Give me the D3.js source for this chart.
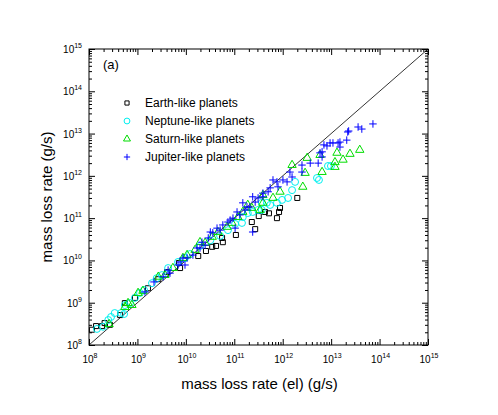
<!DOCTYPE html>
<html>
<head>
<meta charset="utf-8">
<script src="https://cdn.jsdelivr.net/npm/d3@7"></script>
<style>
  body { margin: 0; background: #fff; }
  text { font-family: "Liberation Sans", Arial, sans-serif; fill: #000; }
</style>
</head>
<body>
<div id="the_chart"></div>
<script>
// values, [el rate, rate] in g/s
var earthPoints = [
  [1.15e8, 2.3e8], [1.4e8, 2.8e8], [1.85e8, 2.8e8], [2.1e8, 3.3e8], [2.7e8, 3.0e8],
  [4.4e8, 5.1e8], [5.5e8, 9.8e8], [8.9e8, 1.3e9], [1.65e9, 2.2e9], [2.7e9, 3.6e9],
  [4.1e9, 5.3e9], [7.2e9, 8.7e9], [7.6e9, 6.6e9], [1.8e10, 1.27e10], [2.6e10, 1.67e10],
  [3.5e10, 2.1e10], [4.2e10, 2.2e10], [5.6e10, 3.4e10], [5.8e10, 2.7e10], [1.08e11, 4.0e10],
  [2.7e11, 5.5e10], [2.3e11, 8.1e10], [3.2e11, 1.12e11], [4.3e11, 1.4e11], [5.2e11, 1.3e11],
  [7.6e11, 1.0e11], [8.4e11, 1.4e11], [8.8e11, 1.74e11], [2.0e12, 3.0e11]
];
var neptunePoints = [
  [1.46e8, 2.4e8], [1.95e8, 2.7e8], [2.5e8, 3.9e8], [2.85e8, 4.6e8], [3.4e8, 5.7e8],
  [4.6e8, 5.7e8], [5.3e8, 5.4e8], [5.5e8, 8.8e8], [7.0e8, 9.8e8], [8.9e8, 1.3e9],
  [1.13e9, 1.7e9], [1.37e9, 2.0e9], [2.0e9, 2.9e9], [2.5e9, 3.8e9], [3.2e9, 4.5e9],
  [4.3e9, 6.6e9], [6.9e9, 9.2e9], [9.6e9, 1.14e10], [1.22e10, 1.42e10], [1.96e10, 2.2e10],
  [3.2e10, 3.0e10], [5.1e10, 3.8e10], [7.4e10, 5.2e10], [1.04e11, 7.3e10], [1.44e11, 7.7e10],
  [1.5e11, 1.06e11], [1.9e11, 1.32e11], [2.4e11, 1.4e11], [3.1e11, 1.56e11], [3.7e11, 1.56e11],
  [3.7e11, 2.3e11], [4.7e11, 2.3e11], [5.5e11, 2.05e11], [7.6e11, 2.3e11], [9.7e11, 2.7e11],
  [1.29e12, 3.0e11], [1.56e12, 4.6e11], [1.8e12, 7.2e11], [5.1e12, 8.9e11], [5.6e12, 8.0e11],
  [8.6e12, 1.71e12], [9.9e12, 1.71e12]
];
var saturnPoints = [
  [2.6e8, 3.1e8], [5.5e8, 7.9e8], [6.4e8, 9.8e8], [7.7e8, 8.8e8], [1.03e9, 1.7e9],
  [1.3e9, 1.9e9], [2.7e9, 4.1e9], [3.7e9, 4.5e9], [5.4e9, 6.6e9], [8.7e9, 1.14e10],
  [1.06e10, 1.34e10], [1.55e10, 1.77e10], [1.96e10, 2.7e10], [2.5e10, 2.6e10], [3.5e10, 3.6e10],
  [4.6e10, 4.7e10], [7.1e10, 6.2e10], [9.0e10, 7.7e10], [1.19e11, 1.06e11], [1.5e11, 1.4e11],
  [1.9e11, 2.05e11], [2.3e11, 1.74e11], [3.4e11, 1.56e11], [3.9e11, 3.5e11], [3.9e11, 2.3e11],
  [6.3e11, 3.0e11], [8.8e11, 4.2e11], [1.56e12, 1.8e12], [2.6e12, 5.5e11], [2.9e12, 1.17e12],
  [3.2e12, 2.65e12], [5.9e12, 3.1e12], [6.5e12, 1.23e12], [1.2e13, 2.1e12], [1.2e13, 1.62e12],
  [1.32e13, 3.5e12], [1.76e13, 2.4e12], [2.45e13, 3.3e12], [3.9e13, 4.1e12]
];
var jupiterPoints = [
  [1.43e9, 1.8e9], [2.2e9, 3.1e9], [3.4e9, 4.1e9], [4.3e9, 5.9e9], [4.7e9, 5.0e9],
  [6.9e9, 7.8e9], [7.6e9, 9.2e9], [8.7e9, 1.14e10], [9.6e9, 7.8e9], [1.06e10, 1.14e10],
  [1.4e10, 1.34e10], [1.7e10, 1.97e10], [1.96e10, 1.97e10], [2.15e10, 2.7e10], [2.5e10, 2.3e10],
  [2.9e10, 3.4e10], [3.2e10, 4.7e10], [3.6e10, 4.5e10], [4.4e10, 5.8e10], [5.1e10, 5.2e10],
  [5.8e10, 6.9e10], [7.4e10, 8.1e10], [8.2e10, 9.0e10], [9.4e10, 1.0e11], [1.14e11, 1.4e11],
  [1.31e11, 1.19e11], [1.5e11, 2.3e11], [1.66e11, 1.56e11], [1.83e11, 1.84e11], [2.1e11, 1.84e11],
  [2.4e11, 3.2e11], [2.7e11, 2.4e11], [3.1e11, 3.0e11], [3.9e11, 3.9e11], [3.9e11, 3.2e11],
  [5.0e11, 4.2e11], [5.5e11, 5.2e11], [6.3e11, 8.0e11], [7.6e11, 7.2e11], [8.0e11, 5.5e11],
  [1.01e12, 8.0e11], [1.23e12, 7.2e11], [1.41e12, 1.23e12], [1.56e12, 9.4e11], [2.5e12, 1.8e12],
  [2.5e12, 1.23e12], [3.7e12, 2.0e12], [5.4e12, 2.0e12], [5.9e12, 3.5e12], [6.5e12, 3.7e12],
  [6.5e12, 2.8e12], [7.1e12, 5.4e12], [8.2e12, 5.1e12], [9.5e12, 6.0e12], [1.09e13, 6.0e12],
  [1.39e13, 6.0e12], [1.52e13, 6.3e12], [1.52e13, 4.8e12], [2.1e13, 7.0e12], [2.2e13, 1.09e13],
  [2.3e13, 1.15e13], [3.6e13, 1.43e13], [4.3e13, 1.28e13], [7.3e13, 1.69e13],
  [1.04e11, 5.8e10], [2.4e11, 4.7e10]
];
var seriesNames = ["Earth-like planets", "Neptune-like planets", "Saturn-like planets", "Jupiter-like planets"];
var tickExponents = [8, 9, 10, 11, 12, 13, 14, 15];
var axisDomain = [1e8, 1e15];

var w = 498;
var h = 415;
var plotL = 89, plotR = 428, plotT = 49, plotB = 345;

var svg = d3.select("#the_chart")
  .append("svg")
  .attr("width", w)
  .attr("height", h);

var xscale = d3.scaleLog().domain(axisDomain).range([plotL, plotR]);
var yscale = d3.scaleLog().domain(axisDomain).range([plotB, plotT]);

var majors = tickExponents.map(function (e) { return Math.pow(10, e); });
var minors = [];
tickExponents.slice(0, -1).forEach(function (e) {
  for (var k = 2; k <= 9; k++) minors.push(k * Math.pow(10, e));
});

// ticks point inward on all four sides
function addTicks(axisFn, scale, transform) {
  [[minors, -3], [majors, -6]].forEach(function (t) {
    svg.append("g")
      .attr("transform", transform)
      .call(axisFn(scale).tickValues(t[0]).tickSize(t[1]).tickFormat("").tickSizeOuter(0))
      .call(function (g) { g.select(".domain").remove(); });
  });
}

addTicks(d3.axisBottom, xscale, "translate(0," + plotB + ")");
addTicks(d3.axisTop, xscale, "translate(0," + plotT + ")");
addTicks(d3.axisLeft, yscale, "translate(" + plotL + ",0)");
addTicks(d3.axisRight, yscale, "translate(" + plotR + ",0)");

svg.append("rect")
  .attr("x", plotL).attr("y", plotT)
  .attr("width", plotR - plotL).attr("height", plotB - plotT)
  .attr("fill", "none").attr("stroke", "#000").attr("stroke-width", 1);

// tick labels 10^n
var xl = svg.selectAll(".xlab")
  .data(tickExponents)
  .enter().append("text")
  .attr("class", "xlab")
  .attr("x", function (d) { return xscale(Math.pow(10, d)) + 1; })
  .attr("y", plotB + 18)
  .attr("text-anchor", "middle")
  .style("font-size", "10px");
xl.append("tspan").text("10");
xl.append("tspan").attr("dy", -5).style("font-size", "7px").text(function (d) { return d; });

var yl = svg.selectAll(".ylab")
  .data(tickExponents)
  .enter().append("text")
  .attr("class", "ylab")
  .attr("x", plotL - 7)
  .attr("y", function (d) { return yscale(Math.pow(10, d)) + 4; })
  .attr("text-anchor", "end")
  .style("font-size", "10px");
yl.append("tspan").text("10");
yl.append("tspan").attr("dy", -5).style("font-size", "7px").text(function (d) { return d; });

svg.append("text")
  .attr("x", (plotL + plotR) / 2 + 1)
  .attr("y", 389)
  .attr("text-anchor", "middle")
  .style("font-size", "15px")
  .text("mass loss rate (el) (g/s)");

svg.append("text")
  .attr("transform", "translate(52," + ((plotT + plotB) / 2) + ") rotate(-90)")
  .attr("text-anchor", "middle")
  .style("font-size", "15px")
  .text("mass loss rate (g/s)");

svg.append("text")
  .attr("x", 103).attr("y", 69)
  .style("font-size", "13px")
  .text("(a)");

// y = x reference line
svg.append("line")
  .attr("x1", xscale(axisDomain[0])).attr("y1", yscale(axisDomain[0]))
  .attr("x2", xscale(axisDomain[1])).attr("y2", yscale(axisDomain[1]))
  .attr("stroke", "#000").attr("stroke-width", 0.8);

var plusSymbol = {
  draw: function (context, size) {
    var r = Math.sqrt(size) / 2;
    context.moveTo(-r, 0); context.lineTo(r, 0);
    context.moveTo(0, -r); context.lineTo(0, r);
  }
};

var styles = [
  { data: earthPoints, type: d3.symbolSquare, size: 25, color: "#000000" },
  { data: neptunePoints, type: d3.symbolCircle, size: 38, color: "#00f0f0" },
  { data: saturnPoints, type: d3.symbolTriangle, size: 30, color: "#00dd00" },
  { data: jupiterPoints, type: plusSymbol, size: 56, color: "#0000ff" }
];

styles.forEach(function (s) {
  svg.append("g").selectAll("path")
    .data(s.data)
    .enter().append("path")
    .attr("d", d3.symbol().type(s.type).size(s.size))
    .attr("transform", function (d) {
      return "translate(" + xscale(d[0]) + "," + yscale(d[1]) + ")";
    })
    .attr("fill", "none")
    .attr("stroke", s.color)
    .attr("stroke-width", 1);
});

// legend
var legend = svg.append("g");
seriesNames.forEach(function (name, i) {
  var yy = 103 + i * 18;
  legend.append("path")
    .attr("d", d3.symbol().type(styles[i].type).size(styles[i].size * 0.7))
    .attr("transform", "translate(127," + yy + ")")
    .attr("fill", "none")
    .attr("stroke", styles[i].color);
  legend.append("text")
    .attr("x", 145).attr("y", yy + 4)
    .style("font-size", "12px")
    .text(name);
});
</script>
</body>
</html>
